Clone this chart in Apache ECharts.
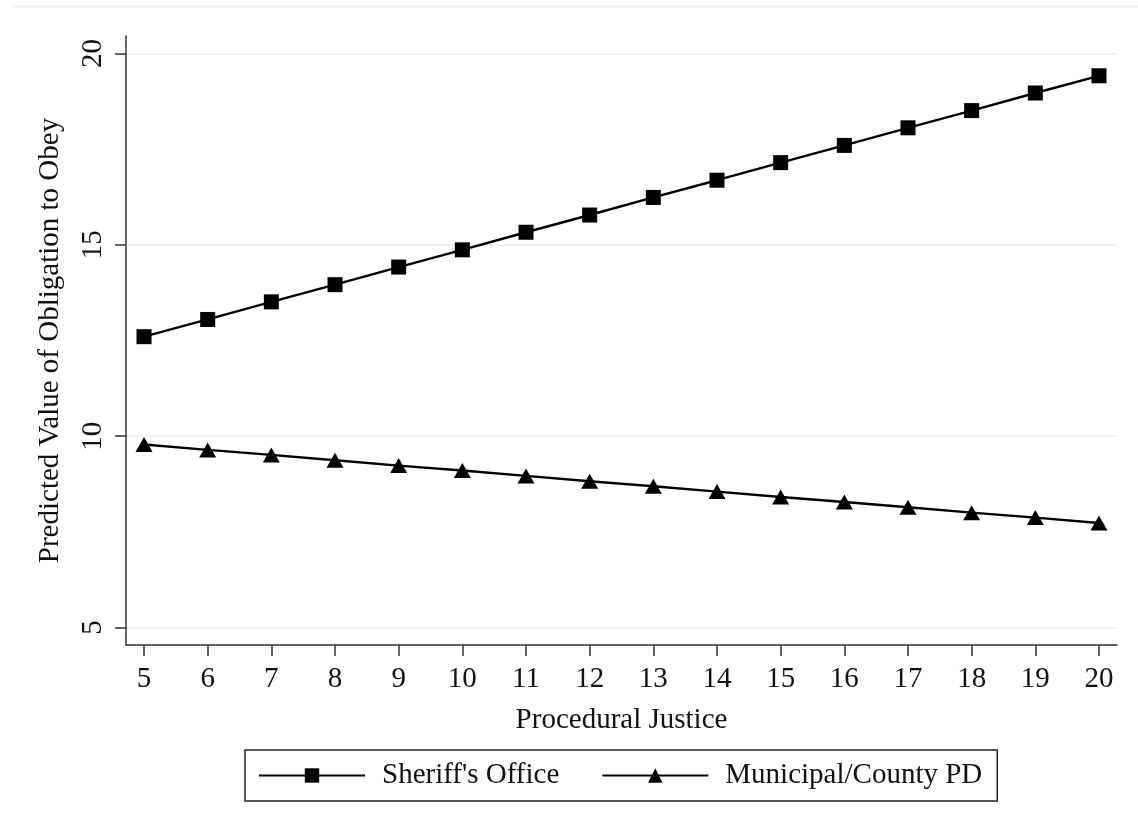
<!DOCTYPE html>
<html>
<head>
<meta charset="utf-8">
<script src="https://cdn.jsdelivr.net/npm/echarts@6/dist/echarts.min.js"></script>
<style>html,body{margin:0;padding:0;background:#fff;}#c{width:1138px;height:826px;}</style>
</head>
<body>
<div id="c"></div>
<script>
const xValues = [5,6,7,8,9,10,11,12,13,14,15,16,17,18,19,20];
const sheriff = [12.60,13.05,13.51,13.96,14.42,14.87,15.33,15.78,16.24,16.69,17.15,17.60,18.06,18.51,18.97,19.42];
const municipal = [9.78,9.64,9.51,9.37,9.23,9.10,8.96,8.82,8.69,8.55,8.41,8.28,8.14,8.00,7.87,7.73];
const yTicks = [5,10,15,20];
const xTicks = xValues;
const seriesNames = ["Sheriff's Office","Municipal/County PD"];
const xTitle = "Procedural Justice";
const yTitle = "Predicted Value of Obligation to Obey";

const font = "Liberation Serif";
const fs = 29;
const chart = echarts.init(document.getElementById('c'));
chart.setOption({
  animation: false,
  backgroundColor: '#fff',
  textStyle: {fontFamily: font, color: '#111'},
  graphic: [{
    type: 'line', shape: {x1: 13, y1: 6.5, x2: 1138, y2: 6.5},
    style: {stroke: '#f4f4f4', lineWidth: 2}, silent: true
  }],
  grid: {left: 126, right: 21, top: 36, bottom: 181, containLabel: false},
  xAxis: {
    type: 'value', min: 4.717, max: 20.283,
    name: xTitle, nameLocation: 'middle', nameGap: 61,
    nameTextStyle: {fontFamily: font, fontSize: fs, color: '#111'},
    axisLine: {show: true, lineStyle: {color: '#333', width: 1.5}},
    axisTick: {show: true, length: 11, lineStyle: {color: '#333', width: 1.5}, customValues: xTicks},
    axisLabel: {fontFamily: font, fontSize: fs, color: '#111', margin: 20, customValues: xTicks},
    splitLine: {show: false}
  },
  yAxis: {
    type: 'value', min: 4.54, max: 20.46,
    name: yTitle, nameLocation: 'middle', nameGap: 61, nameRotate: 90,
    nameTextStyle: {fontFamily: font, fontSize: fs, color: '#111'},
    axisLine: {show: true, lineStyle: {color: '#333', width: 1.5}},
    axisTick: {show: true, length: 11, lineStyle: {color: '#333', width: 1.5}, customValues: yTicks},
    axisLabel: {fontFamily: font, fontSize: fs, color: '#111', margin: 18, rotate: 90, customValues: yTicks},
    splitLine: {show: true, lineStyle: {color: '#eaf2f3', width: 2}}
  },
  legend: {
    left: 245, top: 750,
    orient: 'horizontal',
    itemWidth: 106, itemHeight: 18, itemGap: 42,
    padding: [11, 15, 11, 13],
    borderColor: '#222', borderWidth: 1.5,
    textStyle: {fontFamily: font, fontSize: fs, color: '#111', padding: [0, 0, 0, 12]},
    data: seriesNames
  },
  series: [
    {
      name: seriesNames[0], type: 'line',
      data: xValues.map((x,i)=>[x, sheriff[i]]),
      symbol: 'rect', symbolSize: 15,
      lineStyle: {color: '#000', width: 2.4},
      itemStyle: {color: '#000'}
    },
    {
      name: seriesNames[1], type: 'line',
      data: xValues.map((x,i)=>[x, municipal[i]]),
      symbol: 'triangle', symbolSize: [17, 15],
      lineStyle: {color: '#000', width: 2.4},
      itemStyle: {color: '#000'}
    }
  ]
});
</script>
</body>
</html>
